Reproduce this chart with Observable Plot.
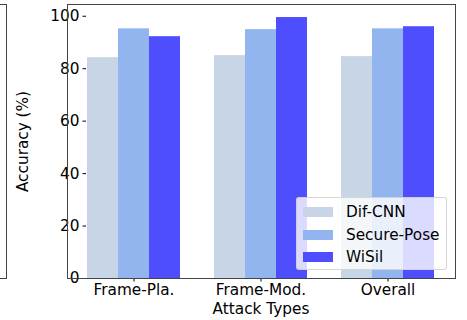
<!DOCTYPE html>
<html>
<head>
<meta charset="utf-8">
<script src="https://cdn.jsdelivr.net/npm/d3@7"></script>
<script src="https://cdn.jsdelivr.net/npm/@observablehq/plot@0.6"></script>
<style>
  html, body { margin: 0; padding: 0; background: #fff; }
  #wrap { position: relative; width: 467px; height: 320px; overflow: hidden; font-family: "DejaVu Sans", sans-serif; }
  #chart svg { font-size: 15.3px !important; font-family: "DejaVu Sans", sans-serif !important; }
  #prev { position: absolute; left: -20px; top: 4px; width: 25px; height: 273px; border: 1.3px solid #444; }
  #axesbox { position: absolute; left: 67px; top: 4px; width: 387px; height: 273px; border: 1.3px solid #444; pointer-events: none; }
  #legend { position: absolute; left: 296px; top: 197px; width: 151px; height: 73px; box-sizing: border-box;
            background: rgba(255,255,255,0.8); border: 1px solid rgba(204,204,204,0.8); border-radius: 3px;
            padding: 3px 0 0 6px; font-size: 15.3px; color: #000; }
  .item { display: flex; align-items: center; height: 22.5px; }
  .sw { width: 30px; height: 10px; margin-right: 13px; }
</style>
</head>
<body>
<div id="wrap">
  <div id="chart"></div>
  <div id="prev"></div>
  <div id="axesbox"></div>
  <div id="legend"></div>
</div>
<script>
// Attack types along the x axis and the three methods compared
const groups = ["Frame-Pla.", "Frame-Mod.", "Overall"];
const series = ["Dif-CNN", "Secure-Pose", "WiSil"];
const colors = ["#c8d5e6", "#92b5f0", "#4e4eff"];

// Accuracy (%) per method, in the order of `groups`
const difCNN = [84.2, 85.0, 84.6];
const securePose = [95.2, 94.9, 95.2];
const wiSil = [92.2, 99.5, 96.0];

const yTicks = [0, 20, 40, 60, 80, 100];

const values = [difCNN, securePose, wiSil];
const rows = [];
series.forEach((s, i) => groups.forEach((g, j) => rows.push({group: g, method: s, value: values[i][j]})));

const yMax = d3.max(rows, d => d.value) * 1.05;

const chart = Plot.plot({
  width: 467,
  height: 320,
  marginLeft: 67,
  marginRight: 13,
  marginTop: 4,
  marginBottom: 42,
  style: "font-family: 'DejaVu Sans', sans-serif; font-size: 15.3px; color: #000; background: transparent;",
  fx: {
    domain: groups,
    paddingInner: 0.25,
    paddingOuter: 0.137,
    axis: "bottom",
    tickSize: 3.5,
    tickPadding: 2.5,
    label: "Attack Types",
    labelAnchor: "center",
    labelArrow: false,
    labelOffset: 35
  },
  x: {domain: series, padding: 0, axis: null},
  y: {
    domain: [0, yMax],
    ticks: yTicks,
    tickSize: 3.5,
    tickPadding: 3.5,
    label: "Accuracy (%)",
    labelAnchor: "center",
    labelArrow: false,
    labelOffset: 69
  },
  color: {domain: series, range: colors},
  marks: [
    Plot.barY(rows, {fx: "group", x: "method", y: "value", fill: "method", inset: 0})
  ]
});
document.getElementById("chart").appendChild(chart);

// Legend
const legend = document.getElementById("legend");
series.forEach((s, i) => {
  const item = document.createElement("div");
  item.className = "item";
  const sw = document.createElement("div");
  sw.className = "sw";
  sw.style.background = colors[i];
  const t = document.createElement("span");
  t.textContent = s;
  item.appendChild(sw);
  item.appendChild(t);
  legend.appendChild(item);
});
</script>
</body>
</html>
